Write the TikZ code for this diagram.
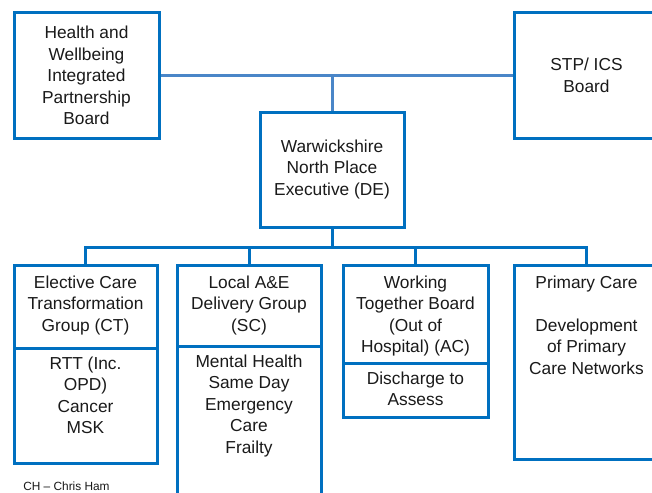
\documentclass[tikz,border=0pt]{standalone}
\usepackage{fontspec}
\setmainfont{Liberation Sans}
\definecolor{boxblue}{HTML}{0070C0}
\definecolor{linkblue}{HTML}{4A86C8}
\definecolor{txt}{HTML}{1A1A1A}
\begin{document}
\begin{tikzpicture}[x=0.75pt,y=-0.75pt,
  box/.style={draw=boxblue,line width=2.25pt,rectangle,inner sep=0pt,fill=white,
    align=center,text=txt,font=\fontsize{13}{16.1}\selectfont},
  lbl/.style={anchor=north,inner sep=0pt,align=center,text=txt,font=\fontsize{13}{16.1}\selectfont},
  link/.style={draw=linkblue,line width=2.25pt},
  bus/.style={draw=boxblue,line width=2.25pt}]
\useasboundingbox (0,0) rectangle (652,492);
\clip (0,0) rectangle (652,492);
\fill[white] (0,0) rectangle (652,492);
% top boxes
\node[box,minimum width=145*0.75pt,minimum height=125*0.75pt] (hw) at (86.5,75.5)
  {Health and\\Wellbeing\\Integrated\\Partnership\\Board};
\node[box,minimum width=145*0.75pt,minimum height=125*0.75pt] (stp) at (586.5,75.5)
  {STP/ ICS\\Board};
\coordinate (j1) at (332,75.5);
\node[box,minimum width=144*0.75pt,minimum height=115*0.75pt] (exec) at (332,169.5)
  {Warwickshire\\North Place\\Executive (DE)};
\draw[link] (hw) -- (stp);
\draw[link] (j1) -- (exec.north);
% lower boxes
\node[box,minimum width=143*0.75pt,minimum height=83*0.75pt] (ect) at (85.5,306.5) {};
\node[box,minimum width=143*0.75pt,minimum height=115*0.75pt] (ecb) at (85.5,405.5) {};
\node[box,minimum width=144*0.75pt,minimum height=81*0.75pt] (aet) at (249,305.5) {};
\node[box,minimum width=144*0.75pt,minimum height=174*0.75pt] (aeb) at (249,433) {};
\node[box,minimum width=145*0.75pt,minimum height=98*0.75pt] (wtt) at (415.5,314) {};
\node[box,minimum width=145*0.75pt,minimum height=54*0.75pt] (wtb) at (415.5,390) {};
\node[box,minimum width=145*0.75pt,minimum height=194*0.75pt] (pc) at (586.5,362) {};
% texts
\node[lbl] (tect) at (85.5,273) {\strut Elective Care\\Transformation\\Group (CT)};
\node[lbl] (tecb) at (85.5,354) {\strut RTT (Inc.\\OPD)\\Cancer\\MSK};
\node[lbl] (taet) at (249,273) {\strut Local A\&E\\Delivery Group\\(SC)};
\node[lbl] (taeb) at (249,352) {\strut Mental Health\\Same Day\\Emergency\\Care\\Frailty};
\node[lbl] (twtt) at (415.5,273) {\strut Working\\Together Board\\(Out of\\Hospital) (AC)};
\node[lbl] (twtb) at (415.5,369) {\strut Discharge to\\Assess};
\node[lbl] (tpc) at (586.5,273) {\strut Primary Care\\[16.1pt]Development\\of Primary\\Care Networks};
% bus
\coordinate (bus) at (332,247);
\draw[bus] (exec.south) -- (bus);
\draw[bus] (ect.north) -- (ect.north |- bus) -| (pc.north);
\draw[bus] (aet.north) -- (aet.north |- bus);
\draw[bus] (wtt.north) -- (wtt.north |- bus);
% footnote
\node[anchor=base west,inner sep=0pt,text=txt,font=\fontsize{8.9}{10}\selectfont] (ch) at (23,490) {CH -- Chris Ham};
\end{tikzpicture}
\end{document}
